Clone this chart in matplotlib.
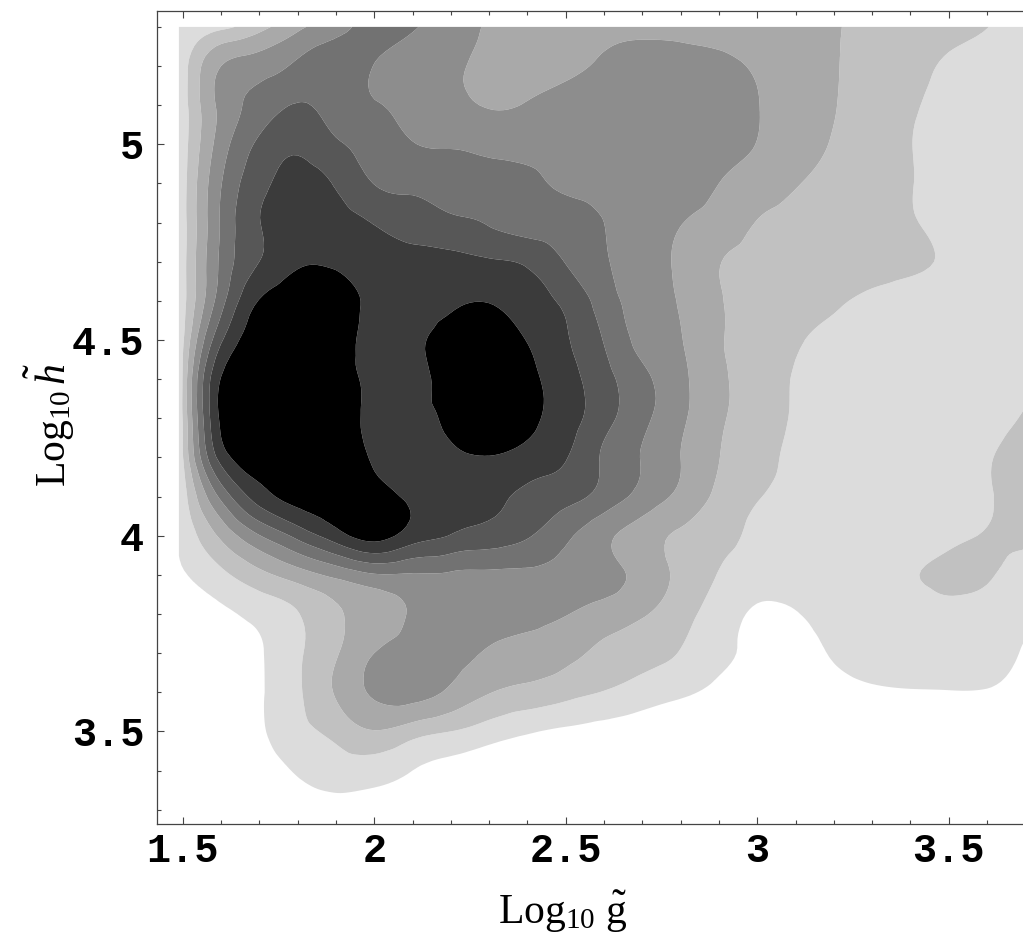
import numpy as np
import matplotlib
matplotlib.use("Agg")
import matplotlib.pyplot as plt
import matplotlib.tri as mtri
from matplotlib.ticker import FixedLocator, MultipleLocator

# ---- data grid ----
x_grid = [1.49, 1.6, 1.7, 1.8, 1.9, 2.0, 2.1, 2.2, 2.3, 2.4, 2.5, 2.6,
          2.7, 2.8, 2.9, 3.0, 3.1, 3.2, 3.3, 3.4, 3.5, 3.6, 3.7]
y_grid = [5.3, 5.2, 5.1, 5.0, 4.9, 4.8, 4.7, 4.6, 4.5, 4.4, 4.3,
          4.2, 4.1, 4.0, 3.9, 3.8, 3.7, 3.6, 3.5, 3.4, 3.3]

row_5_3 = [0.6, 1.25, 2.16, 3.27, 4.12, 4.88, 4.59, 3.99, 3.41, 3.3, 3.3, 3.35, 3.3, 3.15, 3.0, 2.85, 2.7, 2.55, 2.28, 2.03, 1.77, 1.51, 1.25]
row_5_2 = [0.7, 3.5, 4.05, 4.7, 5.0, 4.48, 4.07, 3.66, 3.3, 3.2, 3.35, 3.6, 3.8, 3.85, 3.7, 3.4, 2.97, 2.56, 2.17, 1.78, 1.4, 1.3, 1.25]
row_5_1 = [0.7, 3.77, 4.92, 5.55, 5.09, 4.58, 4.17, 3.78, 3.45, 3.55, 3.8, 3.9, 3.95, 3.9, 3.75, 3.52, 3.05, 2.54, 2.07, 1.6, 1.3, 1.2, 1.2]
row_5_0 = [0.7, 4.0, 5.7, 6.3, 5.65, 5.14, 4.55, 4.4, 4.2, 4.1, 4.1, 4.1, 4.05, 3.95, 3.8, 3.48, 2.95, 2.43, 1.98, 1.52, 1.25, 1.1, 1.1]
row_4_9 = [0.7, 4.45, 6.2, 6.85, 6.4, 5.48, 5.3, 5.1, 4.9, 4.7, 4.35, 4.2, 4.1, 4.0, 3.5, 3.02, 2.56, 2.2, 1.86, 1.53, 1.25, 1.1, 1.1]
row_4_8 = [0.7, 4.6, 6.47, 7.1, 6.9, 6.45, 6.0, 5.7, 5.4, 5.0, 4.9, 4.5, 4.2, 3.55, 3.03, 2.47, 2.26, 2.02, 1.8, 1.56, 1.3, 1.15, 1.1]
row_4_7 = [0.7, 4.7, 6.5, 7.35, 7.3, 7.0, 6.9, 6.8, 6.6, 6.35, 5.45, 4.6, 3.98, 3.29, 2.53, 2.34, 2.16, 1.98, 1.8, 1.62, 1.4, 1.2, 1.1]
row_4_6 = [0.7, 5.1, 7.55, 8.2, 8.1, 7.2, 7.2, 7.35, 7.45, 6.9, 6.3, 5.0, 4.1, 3.4, 2.57, 2.23, 1.93, 1.63, 1.35, 1.25, 1.2, 1.1, 1.05]
row_4_5 = [0.7, 6.35, 8.0, 8.4, 8.1, 7.1, 7.3, 7.8, 8.1, 7.45, 6.6, 5.45, 4.2, 3.55, 2.6, 2.1, 1.6, 1.35, 1.25, 1.2, 1.15, 1.15, 1.2]
row_4_4 = [0.7, 7.55, 8.3, 8.6, 8.2, 7.2, 7.3, 7.75, 8.2, 7.8, 6.9, 5.85, 4.75, 3.75, 2.7, 2.0, 1.45, 1.3, 1.2, 1.2, 1.2, 1.25, 1.4]
row_4_3 = [0.7, 7.7, 8.5, 8.7, 8.3, 7.2, 7.3, 7.65, 8.2, 7.8, 6.95, 5.85, 4.75, 3.7, 2.65, 2.0, 1.4, 1.2, 1.1, 1.1, 1.15, 1.3, 1.55]
row_4_2 = [0.7, 6.9, 8.1, 8.5, 8.2, 7.4, 7.1, 7.3, 7.45, 7.1, 6.55, 5.35, 4.45, 3.5, 2.52, 1.85, 1.3, 1.15, 1.1, 1.1, 1.2, 1.45, 1.75]
row_4_1 = [0.6, 4.75, 7.0, 7.9, 8.0, 7.9, 7.3, 6.95, 6.7, 6.3, 5.85, 5.1, 4.15, 3.25, 2.25, 1.55, 1.25, 1.1, 1.05, 1.1, 1.2, 1.45, 1.75]
row_4_0 = [0.55, 2.7, 4.45, 5.8, 7.05, 7.9, 7.0, 6.45, 6.1, 5.6, 4.7, 3.75, 3.0, 2.35, 1.85, 1.3, 1.05, 0.9, 0.9, 1.0, 1.3, 1.55, 1.7]
row_3_9 = [0.35, 1.25, 2.2, 3.0, 3.75, 4.4, 4.4, 4.35, 4.3, 4.3, 4.2, 3.85, 3.15, 2.25, 1.45, 1.0, 0.95, 0.9, 1.0, 1.4, 1.7, 1.6, 1.0]
row_3_8 = [0.0, 0.3, 0.8, 1.45, 2.35, 3.0, 3.6, 3.85, 3.85, 3.8, 3.55, 3.05, 2.6, 1.85, 1.05, 0.35, 0.45, 0.75, 0.85, 1.0, 1.2, 1.1, 0.7]
row_3_7 = [0.0, 0.0, 0.4, 1.35, 2.4, 3.5, 3.85, 3.75, 3.4, 3.1, 2.75, 2.3, 1.9, 1.45, 0.75, 0.3, 0.3, 0.55, 0.75, 0.85, 0.9, 0.85, 0.4]
row_3_6 = [0.0, 0.0, 0.4, 1.35, 2.6, 3.65, 3.9, 3.3, 2.55, 2.2, 1.85, 1.45, 1.0, 0.65, 0.3, 0.15, 0.2, 0.3, 0.4, 0.45, 0.47, 0.45, 0.2]
row_3_5 = [0.0, 0.0, 0.35, 1.2, 1.8, 2.45, 1.95, 1.5, 1.0, 0.6, 0.35, 0.2, 0.1, 0.05, 0.05, 0.05, 0.05, 0.05, 0.05, 0.05, 0.05, 0.05, 0.05]
row_3_4 = [0.0, 0.0, 0.1, 0.6, 1.0, 0.95, 0.5, 0.2, 0.0, 0.0, 0.0, 0.0, 0.0, 0.0, 0.0, 0.0, 0.0, 0.0, 0.0, 0.0, 0.0, 0.0, 0.0]
row_3_3 = [0.0] * 23

contour_levels = [-5.0, 0.5, 1.5, 2.5, 3.5, 4.5, 5.5, 6.5, 7.5, 15.0]
gray_colors = ["#ffffff", "#dcdcdc", "#c1c1c1", "#a9a9a9", "#8d8d8d",
               "#727272", "#575757", "#3b3b3b", "#000000"]

x_ticks = [1.5, 2.0, 2.5, 3.0, 3.5]
x_tick_labels = ["1.5", "2", "2.5", "3", "3.5"]
y_ticks = [3.5, 4.0, 4.5, 5.0]
y_tick_labels = ["3.5", "4", "4.5", "5"]

# ---- figure ----
rows = [row_5_3, row_5_2, row_5_1, row_5_0, row_4_9, row_4_8, row_4_7,
        row_4_6, row_4_5, row_4_4, row_4_3, row_4_2, row_4_1, row_4_0,
        row_3_9, row_3_8, row_3_7, row_3_6, row_3_5, row_3_4, row_3_3]
Z = np.array(rows)
X, Y = np.meshgrid(x_grid, y_grid)

plt.rcParams["mathtext.fontset"] = "custom"
plt.rcParams["mathtext.rm"] = "Liberation Serif"
plt.rcParams["mathtext.it"] = "Liberation Serif:italic"

fig = plt.figure(figsize=(10.23, 9.40), dpi=100)
ax = fig.add_axes([0.1532, 0.1234, 0.8468, 0.8649])

# smooth rendering of the read grid with matplotlib's own triangulation refiner
tri = mtri.Triangulation(X.ravel(), Y.ravel())
refiner = mtri.UniformTriRefiner(tri)
tri_fine, z_fine = refiner.refine_field(Z.ravel(), subdiv=3)
ax.tricontourf(tri_fine, z_fine, levels=contour_levels, colors=gray_colors,
               antialiased=True)

ax.set_xlim(1.4321, 3.694)
ax.set_ylim(3.2634, 5.3406)

ax.xaxis.set_major_locator(FixedLocator(x_ticks))
ax.set_xticklabels(x_tick_labels)
ax.yaxis.set_major_locator(FixedLocator(y_ticks))
ax.set_yticklabels(y_tick_labels)
ax.xaxis.set_minor_locator(MultipleLocator(0.1))
ax.yaxis.set_minor_locator(MultipleLocator(0.1))

ax.tick_params(which="both", direction="in", top=True, bottom=True,
               left=True, right=False, color="#444444", width=0.8)
ax.tick_params(which="major", length=5)
ax.tick_params(which="minor", length=3)
ax.tick_params(axis="x", which="major", pad=6)
ax.tick_params(axis="y", which="major", pad=9)
for lab in ax.get_xticklabels() + ax.get_yticklabels():
    lab.set_fontfamily("Liberation Mono")
    lab.set_fontweight("bold")
    lab.set_fontsize(29)

for side in ["left", "bottom", "top"]:
    ax.spines[side].set_color("#444444")
    ax.spines[side].set_linewidth(0.9)
ax.spines["right"].set_visible(False)

fig.text(563 / 1023, 1 - 912 / 940, r"$\mathrm{Log}_{10}\ \tilde{\mathrm{g}}$",
         ha="center", va="center", fontsize=30)
fig.text(50 / 1023, 1 - 425 / 940, r"$\mathrm{Log}_{10}\,\tilde{h}$",
         ha="center", va="center", rotation=90, fontsize=30)

fig.savefig("out.png", dpi=100)
